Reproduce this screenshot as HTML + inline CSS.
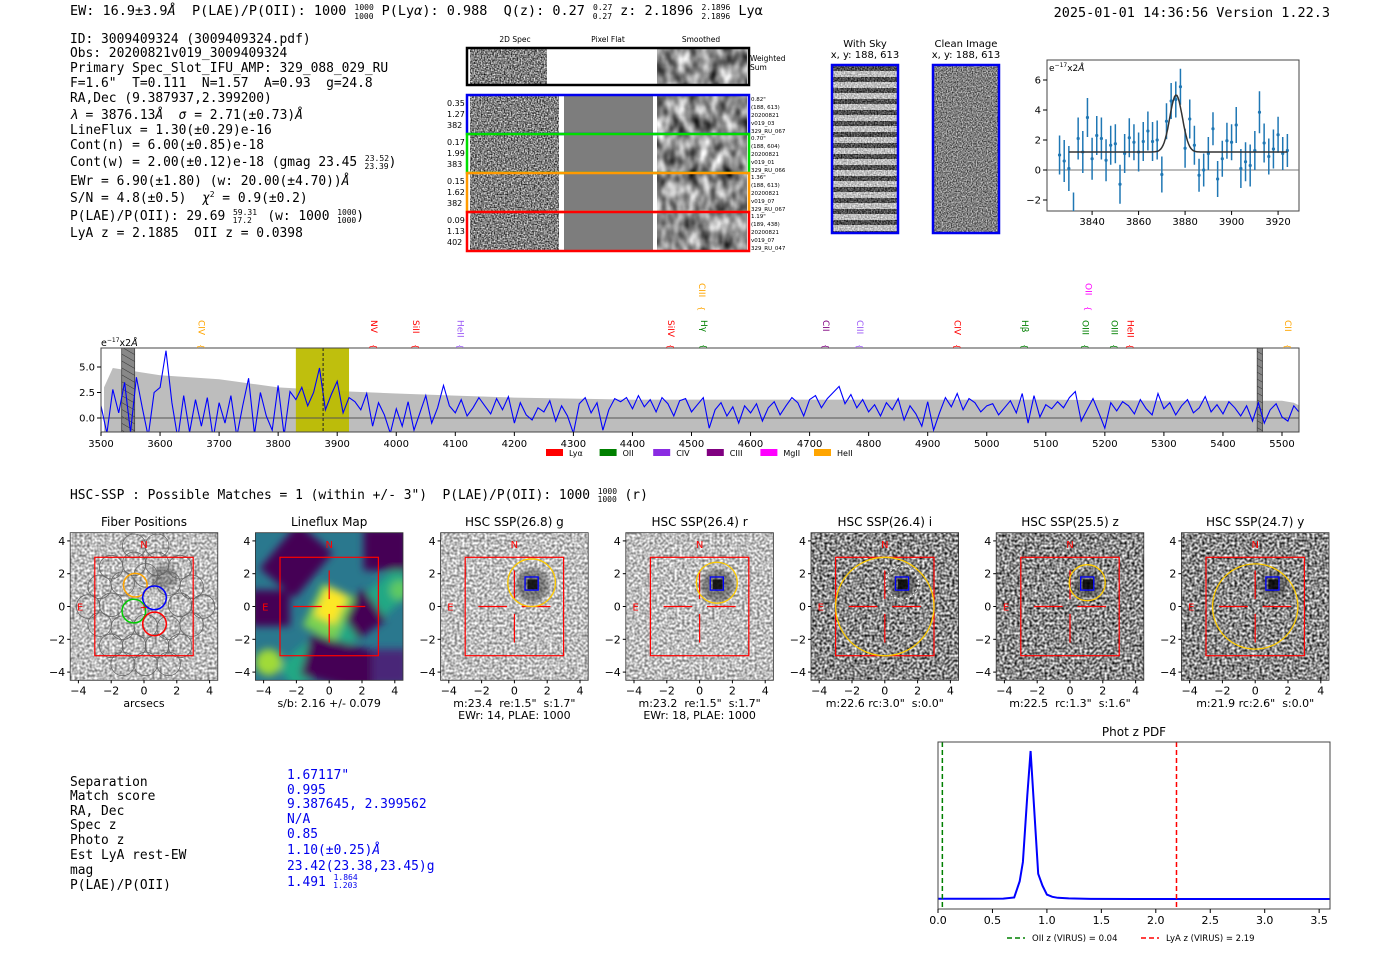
<!DOCTYPE html>
<html><head><meta charset="utf-8"><style>
html,body{margin:0;padding:0;background:#fff}
svg{display:block}
text{white-space:pre}
.m{font-family:"DejaVu Sans Mono","Liberation Mono",monospace}
.s{font-family:"DejaVu Sans","Liberation Sans",sans-serif}
</style></head><body>
<svg id="fig" width="1400" height="953" viewBox="0 0 1400 953" xmlns="http://www.w3.org/2000/svg" xml:space="preserve">
<defs>
<filter id="nzF" x="0" y="0" width="1" height="1" color-interpolation-filters="sRGB"><feTurbulence type="fractalNoise" baseFrequency="0.7" numOctaves="1" seed="3"/><feColorMatrix type="matrix" values="1.6 0 0 0 -0.3  1.6 0 0 0 -0.3  1.6 0 0 0 -0.3  0 0 0 0 1"/></filter>
<filter id="nzC" x="0" y="0" width="1" height="1" color-interpolation-filters="sRGB"><feTurbulence type="fractalNoise" baseFrequency="0.8" numOctaves="1" seed="9"/><feColorMatrix type="matrix" values="1.3 0 0 0 -0.15  1.3 0 0 0 -0.15  1.3 0 0 0 -0.15  0 0 0 0 1"/></filter>
<filter id="nzS" x="0" y="0" width="1" height="1" color-interpolation-filters="sRGB"><feTurbulence type="fractalNoise" baseFrequency="0.09 0.06" numOctaves="2" seed="7"/><feColorMatrix type="matrix" values="1.3 0 0 0 -0.1  1.3 0 0 0 -0.1  1.3 0 0 0 -0.1  0 0 0 0 1"/></filter>
<filter id="nzL" x="0" y="0" width="1" height="1" color-interpolation-filters="sRGB"><feTurbulence type="fractalNoise" baseFrequency="0.4" numOctaves="1" seed="11"/><feColorMatrix type="matrix" values="1.1 0 0 0 0.2  1.1 0 0 0 0.2  1.1 0 0 0 0.2  0 0 0 0 1"/></filter>
<filter id="nzD" x="0" y="0" width="1" height="1" color-interpolation-filters="sRGB"><feTurbulence type="fractalNoise" baseFrequency="0.4" numOctaves="1" seed="5"/><feColorMatrix type="matrix" values="1.7 0 0 0 -0.3  1.7 0 0 0 -0.3  1.7 0 0 0 -0.3  0 0 0 0 1"/></filter>
<filter id="blur2" x="-50%" y="-50%" width="200%" height="200%"><feGaussianBlur stdDeviation="2.5"/></filter>
<filter id="blur5" x="-30%" y="-30%" width="160%" height="160%"><feGaussianBlur stdDeviation="4"/></filter>
<pattern id="stripes" width="10" height="11" patternUnits="userSpaceOnUse"><rect width="10" height="5" fill="#000" opacity="0.4"/><rect y="5" width="10" height="6" fill="#fff" opacity="0.5"/></pattern>
<pattern id="hatch" width="6" height="6" patternUnits="userSpaceOnUse" patternTransform="rotate(-60)"><line x1="0" y1="0" x2="0" y2="6" stroke="#333" stroke-width="1"/></pattern>
<clipPath id="specClip"><rect x="101" y="348" width="1198" height="84"/></clipPath>
<clipPath id="zoomClip"><rect x="1047" y="60" width="252" height="151"/></clipPath>
<clipPath id="pdfClip"><rect x="938" y="742" width="392" height="167"/></clipPath>
<clipPath id="lfClip"><rect x="255.4" y="532.7" width="147.6" height="147.6"/></clipPath>
</defs>

<!-- header -->
<g class="m" font-size="13.5">
<text x="70" y="15">EW: 16.9±3.9<tspan font-style="italic">Å</tspan>  P(LAE)/P(OII): 1000 <tspan font-size="8" dy="-5">1000</tspan><tspan font-size="8" dx="-19.5" dy="9">1000</tspan><tspan dy="-4"> P(Ly<tspan font-style="italic">α</tspan>): 0.988  Q(z): 0.27 </tspan><tspan font-size="8" dy="-5">0.27</tspan><tspan font-size="8" dx="-19.5" dy="9">0.27</tspan><tspan dy="-4"> z: 2.1896 </tspan><tspan font-size="8" dy="-5">2.1896</tspan><tspan font-size="8" dx="-29" dy="9">2.1896</tspan><tspan dy="-4"> Lyα</tspan></text>
<text x="1330" y="17" text-anchor="end">2025-01-01 14:36:56 Version 1.22.3</text>
</g>

<g class="m" font-size="12.9">
<text x="70" y="43">ID: 3009409324 (3009409324.pdf)</text>
<text x="70" y="57">Obs: 20200821v019_3009409324</text>
<text x="70" y="72">Primary Spec_Slot_IFU_AMP: 329_088_029_RU</text>
<text x="70" y="87">F=1.6"  T=0.111  N=1.57  A=0.93  g=24.8</text>
<text x="70" y="102">RA,Dec (9.387937,2.399200)</text>
<text x="70" y="119"><tspan font-style="italic">λ</tspan> = 3876.13<tspan font-style="italic">Å</tspan>  <tspan font-style="italic">σ</tspan> = 2.71(±0.73)<tspan font-style="italic">Å</tspan></text>
<text x="70" y="134">LineFlux = 1.30(±0.29)e-16</text>
<text x="70" y="149">Cont(n) = 6.00(±0.85)e-18</text>
<text x="70" y="166">Cont(w) = 2.00(±0.12)e-18 (gmag 23.45 <tspan font-size="8" dy="-5">23.52</tspan><tspan font-size="8" dx="-24.5" dy="8">23.39</tspan><tspan dy="-3">)</tspan></text>
<text x="70" y="185">EWr = 6.90(±1.80) (w: 20.00(±4.70))<tspan font-style="italic">Å</tspan></text>
<text x="70" y="202">S/N = 4.8(±0.5)  <tspan font-style="italic">χ</tspan><tspan font-size="8" dy="-5">2</tspan><tspan dy="5"> = 0.9(±0.2)</tspan></text>
<text x="70" y="220">P(LAE)/P(OII): 29.69 <tspan font-size="8" dy="-5">59.31</tspan><tspan font-size="8" dx="-24.5" dy="8">17.2</tspan><tspan dy="-3">  (w: 1000 </tspan><tspan font-size="8" dy="-5">1000</tspan><tspan font-size="8" dx="-19.5" dy="8">1000</tspan><tspan dy="-3">)</tspan></text>
<text x="70" y="237">LyA z = 2.1885  OII z = 0.0398</text>
</g>

<!-- 2D spectra -->
<g class="s" font-size="7.5">
<text x="515" y="42" text-anchor="middle">2D Spec</text>
<text x="608" y="42" text-anchor="middle">Pixel Flat</text>
<text x="701" y="42" text-anchor="middle">Smoothed</text>
<rect x="470" y="49" width="77" height="35" filter="url(#nzF)"/>
<rect x="657" y="49" width="90" height="35" filter="url(#nzS)"/>
<rect x="467" y="48" width="282" height="37" fill="none" stroke="#000" stroke-width="2.5"/>
<text x="750" y="61">Weighted</text><text x="750" y="70">Sum</text>
<g id="rows"></g>
</g>

<!-- with sky / clean -->
<g class="s" font-size="10">
<text x="865" y="47" text-anchor="middle">With Sky</text><text x="865" y="58" text-anchor="middle">x, y: 188, 613</text>
<text x="966" y="47" text-anchor="middle">Clean Image</text><text x="966" y="58" text-anchor="middle">x, y: 188, 613</text>
<rect x="832" y="65" width="66" height="168" filter="url(#nzF)"/>
<rect x="832" y="65" width="66" height="168" fill="url(#stripes)"/>
<rect x="832" y="65" width="66" height="168" fill="none" stroke="#0000ee" stroke-width="2.5"/>
<rect x="933" y="65" width="66" height="168" filter="url(#nzC)"/>
<rect x="933" y="65" width="66" height="168" fill="none" stroke="#0000ee" stroke-width="2.5"/>
</g>

<!-- zoom plot -->
<g class="s" font-size="10">
<rect x="1047" y="60" width="252" height="151" fill="none" stroke="#444" stroke-width="1"/>
<g id="zoomAxes"></g>
<g id="zoomMarks" clip-path="url(#zoomClip)"></g>
<text x="1049" y="71" font-size="9">e<tspan font-size="6" dy="-4">−17</tspan><tspan dy="4">x2<tspan font-style="italic">Å</tspan></tspan></text>
</g>

<!-- main spectrum -->
<g class="s">
<g id="specMarks" clip-path="url(#specClip)"></g>
<rect x="101" y="348" width="1198" height="84" fill="none" stroke="#444" stroke-width="1"/>
<g id="specAxes" font-size="10"></g>
<text x="101" y="346" font-size="9.5">e<tspan font-size="6" dy="-4">−17</tspan><tspan dy="4">x2<tspan font-style="italic">Å</tspan></tspan></text>
<g id="lineLabels" font-size="9"></g>
<g id="specLegend" font-size="8"></g>
</g>

<text x="70" y="499" class="m" font-size="12.9">HSC-SSP : Possible Matches = 1 (within +/- 3")  P(LAE)/P(OII): 1000 <tspan font-size="8" dy="-5">1000</tspan><tspan font-size="8" dx="-19.5" dy="8">1000</tspan><tspan dy="-3"> (r)</tspan></text>

<g id="panels" class="s" font-size="11"></g>

<!-- match table -->
<g class="m" font-size="12.9">
<g>
<text x="70" y="786">Separation</text><text x="70" y="800">Match score</text><text x="70" y="815">RA, Dec</text><text x="70" y="829">Spec z</text><text x="70" y="844">Photo z</text><text x="70" y="859">Est LyA rest-EW</text><text x="70" y="874">mag</text><text x="70" y="889">P(LAE)/P(OII)</text>
</g>
<g fill="#0000ee">
<text x="287" y="779">1.67117"</text><text x="287" y="794">0.995</text><text x="287" y="808">9.387645, 2.399562</text><text x="287" y="823">N/A</text><text x="287" y="838">0.85</text><text x="287" y="854">1.10(±0.25)<tspan font-style="italic">Å</tspan></text><text x="287" y="870">23.42(23.38,23.45)g</text><text x="287" y="886">1.491 <tspan font-size="8" dy="-6">1.864</tspan><tspan font-size="8" dx="-24.5" dy="8">1.203</tspan></text>
</g>
</g>

<!-- phot z pdf -->
<g class="s" font-size="11">
<text x="1134" y="736" text-anchor="middle" font-size="12">Phot z PDF</text>
<g id="pdfMarks" clip-path="url(#pdfClip)"></g>
<rect x="938" y="742" width="392" height="167" fill="none" stroke="#444" stroke-width="1"/>
<g id="pdfAxes"></g>
<g font-size="8.5">
<line x1="1007" y1="938" x2="1025" y2="938" stroke="#008000" stroke-width="1.5" stroke-dasharray="5,3"/>
<text x="1032" y="941">OII z (VIRUS) = 0.04</text>
<line x1="1141" y1="938" x2="1159" y2="938" stroke="#ff0000" stroke-width="1.5" stroke-dasharray="5,3"/>
<text x="1166" y="941">LyA z (VIRUS) = 2.19</text>
</g>
</g>
</svg>

<script>
// ---- data ----
const rowColors = ['#0000ee','#00dd00','#ff9900','#ff0000'];
const rowLeft = [['0.35','1.27','382'],['0.17','1.99','383'],['0.15','1.62','382'],['0.09','1.13','402']];
const rowRight = [['0.82"','(188, 613)','20200821','v019_03','329_RU_067'],['0.70"','(188, 604)','20200821','v019_01','329_RU_066'],['1.36"','(188, 613)','20200821','v019_07','329_RU_067'],['1.19"','(189, 438)','20200821','v019_07','329_RU_047']];

const zoomWave = [3826,3828,3830,3832,3834,3836,3838,3840,3842,3844,3846,3848,3850,3852,3854,3856,3858,3860,3862,3864,3866,3868,3870,3872,3874,3876,3878,3880,3882,3884,3886,3888,3890,3892,3894,3896,3898,3900,3902,3904,3906,3908,3910,3912,3914,3916,3918,3920,3922,3924];
const zoomFlux = [1.0,0.6,0.1,-2.8,2.1,1.2,3.5,0.75,2.3,2.1,0.65,1.65,1.75,-0.95,1.1,2.15,1.85,1.2,1.9,2.6,1.9,2.0,-0.3,3.25,4.6,4.7,5.55,1.45,3.4,1.65,-0.35,0.0,1.1,2.75,-0.6,0.75,1.95,1.85,3.0,0.1,0.55,0.3,1.3,3.85,1.8,0.9,1.4,2.35,1.1,1.3];
const zoomErr = [1.3,1.4,1.5,1.3,1.4,1.4,1.3,1.4,1.3,1.4,1.4,1.3,1.3,1.3,1.3,1.3,1.2,1.3,1.3,1.3,1.3,1.3,1.2,1.2,1.2,1.2,1.2,1.3,1.3,1.3,1.1,1.1,1.1,1.1,1.2,1.2,1.2,1.2,1.2,1.3,1.3,1.4,1.3,1.4,1.3,1.2,1.3,1.2,1.1,1.1];
const fitCont = 1.2, fitAmp = 3.8, fitCenter = 3876.13, fitSigma = 2.71;
const zoomXTicks = [3840,3860,3880,3900,3920];
const zoomYTicks = [-2,0,2,4,6];

const specStart = 3500, specStep = 10;
const specFlux = [1.2,-1.5,2.8,0.5,3.5,-1.4,4.0,1.0,-1.8,2.5,
3.0,6.6,1.5,-2.0,2.2,-1.4,1.8,-0.8,2.0,-2.0,
1.5,-0.5,2.2,-1.8,1.2,3.9,-1.6,2.5,0.2,-1.2,
3.2,-1.7,2.6,1.8,3.0,1.2,2.5,4.9,0.8,2.3,
3.6,0.5,2.0,1.6,0.8,2.4,-0.8,1.5,0.3,-1.5,
0.9,-0.8,1.6,-1.2,0.5,2.2,-0.5,1.0,3.2,1.2,
0.5,1.8,0.2,1.0,2.0,1.2,0.4,1.9,0.8,2.1,
-0.5,1.5,0.3,-0.2,1.0,0.6,1.7,-0.3,1.2,0.2,
-1.5,1.4,2.0,0.5,1.5,-1.2,0.8,1.9,1.6,2.0,
0.9,2.2,1.1,1.8,0.6,2.0,1.4,0.2,1.7,1.9,
0.6,1.3,2.0,-1.0,0.8,1.5,0.2,1.1,-0.5,1.2,
0.5,1.4,-0.3,1.0,1.6,0.3,1.2,2.0,1.5,0.2,
1.8,2.2,1.0,1.9,2.5,3.1,1.4,2.3,1.0,1.8,
0.6,1.3,0.2,1.5,0.8,1.9,-0.2,1.2,0.4,-0.8,
1.6,-1.2,0.5,2.0,1.1,2.4,0.8,1.9,1.5,0.6,
1.2,1.4,0.3,1.0,1.7,0.5,2.4,-0.5,2.2,0.1,
1.3,0.9,1.6,1.0,2.0,2.6,-0.3,0.8,1.9,0.5,
-1.0,1.5,0.7,1.6,1.2,0.4,1.8,0.9,0.3,2.4,
0.9,1.5,0.3,1.2,1.8,0.5,1.0,2.1,0.6,1.3,
0.4,1.6,1.0,0.2,1.2,-0.3,1.5,-0.5,0.8,1.4,
0.1,-0.3,1.2,0.5];
const skyWave = [3505,3520,3600,3700,3800,3830,3920,4000,4100,4200,4300,4400,4500,4700,4900,5100,5300,5500,5520,5530];
const skyVal = [3.0,4.9,4.2,3.8,3.0,2.9,2.6,2.4,2.2,2.0,1.9,1.8,1.8,1.8,1.8,1.8,1.7,1.7,1.5,1.2];
const specXTicks = [3500,3600,3700,3800,3900,4000,4100,4200,4300,4400,4500,4600,4700,4800,4900,5000,5100,5200,5300,5400,5500];
const specYTicks = [0.0,2.5,5.0];
const fitWindow = [3830,3920];
const maskedBands = [[3535,3557],[5458,5467]];
const lineNames = ['CIV','NV','SiII','HeII','SiIV','CIII','Hγ','CII','CIII','CIV','Hβ','OII','OIII','OIII','HeII','CII'];
const lineWaves = [3660,3952,4023,4099,4455,4508,4511,4718,4775,4940,5055,5162,5157,5206,5233,5500];
const lineColors = ['#ffa500','#ff0000','#ff0000','#9b59f6','#ff0000','#ffa500','#008000','#800080','#9b59f6','#ff0000','#008000','#ff00ff','#008000','#008000','#ff0000','#ffa500'];
const lineHigh = [0,0,0,0,0,1,0,0,0,0,0,1,0,0,0,0];
const legendNames = ['Lyα','OII','CIV','CIII','MgII','HeII'];
const legendColors = ['#ff0000','#008000','#8a2be2','#800080','#ff00ff','#ffa500'];

const panelTitles = ['Fiber Positions','Lineflux Map','HSC SSP(26.8) g','HSC SSP(26.4) r','HSC SSP(26.4) i','HSC SSP(25.5) z','HSC SSP(24.7) y'];
const panelSub1 = ['arcsecs','s/b: 2.16 +/- 0.079','m:23.4  re:1.5"  s:1.7"','m:23.2  re:1.5"  s:1.7"','m:22.6 rc:3.0"  s:0.0"','m:22.5  rc:1.3"  s:1.6"','m:21.9 rc:2.6"  s:0.0"'];
const panelSub2 = ['','','EWr: 14, PLAE: 1000','EWr: 18, PLAE: 1000','','',''];
const ellipseX = [0,0,1.05,1.05,0,1.05,0];
const ellipseY = [0,0,1.45,1.45,0,1.45,0];
const ellipseR = [0,0,1.45,1.25,3.0,1.1,2.6];
const panelTicks = [-4,-2,0,2,4];
const fiberX = [-0.53,0.64,-0.62,0.64];
const fiberY = [1.3,0.53,-0.28,-1.06];
const fiberCol = ['#ffa500','#0000ff','#00cc00','#ff0000'];
const gridFiberX = [-2.0,-0.6,0.8,2.2,-2.7,-1.3,1.5,2.9,-2.0,2.2,-2.7,-1.3,0.1,1.5,2.9,-2.0,-0.6,0.8,2.2,-1.3,0.1,1.5,-0.6,0.8,0.1,-3.4,3.6];
const gridFiberY = [2.4,2.6,2.6,2.4,1.2,1.4,1.4,1.2,0.1,0.1,-1.1,-1.3,-1.2,-1.3,-1.1,-2.4,-2.4,-2.4,-2.4,-3.5,-3.5,-3.5,3.7,3.7,1.9,0.0,0.0];

const pdfZ = [0,0.2,0.4,0.6,0.7,0.75,0.78,0.82,0.85,0.88,0.92,0.96,1.0,1.05,1.1,1.2,1.4,1.8,2.5,3.6];
const pdfP = [0.002,0.002,0.002,0.003,0.01,0.12,0.25,0.7,1.0,0.65,0.17,0.09,0.03,0.015,0.008,0.004,0.001,0,0,0];
const pdfXTicks = [0.0,0.5,1.0,1.5,2.0,2.5,3.0,3.5];
const oiiZ = 0.04, lyaZ = 2.19;

// ---- helpers ----
const NS = 'http://www.w3.org/2000/svg';
function mk(tag, attrs, parent){ const e=document.createElementNS(NS,tag); for(const k in attrs) e.setAttribute(k,attrs[k]); parent.appendChild(e); return e; }
function txt(s, attrs, parent){ const e=mk('text',attrs,parent); e.textContent=s; return e; }

// ---- 2D spec rows ----
const rows = document.getElementById('rows');
const rowY = [96,135,174,213];
rowY.forEach((y,i)=>{
  const g = mk('g',{},rows);
  
  
  mk('rect',{x:470,y:y,width:89,height:37,filter:'url(#nzF)'},g);
  mk('rect',{x:564,y:y,width:89,height:37,fill:'#7d7d7d'},g);
  mk('rect',{x:657,y:y,width:90,height:37,filter:'url(#nzS)'},g);
  mk('rect',{x:467,y:y-1,width:282,height:39,fill:'none',stroke:rowColors[i],'stroke-width':2.5},g);
  rowLeft[i].forEach((s,j)=>txt(s,{x:447,y:y+10+j*11,'font-size':8},g));
  rowRight[i].forEach((s,j)=>txt(s,{x:751,y:y+5+j*8,'font-size':5.5},g));
});

// ---- zoom plot ----
const zx = w => 1047 + (w-3820.6)*(252/108.4);
const zy = v => 170 - v*15;
const zAx = document.getElementById('zoomAxes');
zoomXTicks.forEach(t=>{ mk('line',{x1:zx(t),y1:211,x2:zx(t),y2:215,stroke:'#000'},zAx); txt(String(t),{x:zx(t),y:225,'text-anchor':'middle'},zAx); });
zoomYTicks.forEach(t=>{ mk('line',{x1:1043,y1:zy(t),x2:1047,y2:zy(t),stroke:'#000'},zAx); txt(t<0?'−'+(-t):String(t),{x:1041,y:zy(t)+3.5,'text-anchor':'end'},zAx); });
const zM = document.getElementById('zoomMarks');
mk('line',{x1:1047,y1:zy(0),x2:1299,y2:zy(0),stroke:'#777','stroke-width':1},zM);
zoomWave.forEach((w,i)=>{
  const eb = mk('line',{x1:zx(w),y1:zy(zoomFlux[i]-zoomErr[i]),x2:zx(w),y2:zy(zoomFlux[i]+zoomErr[i]),stroke:'#1f77b4','stroke-width':1.5},zM);
  
  
  const pt = mk('circle',{cx:zx(w),cy:zy(zoomFlux[i]),r:1.6,fill:'#1f77b4'},zM);
  
  
});
let fd='';
for(let w=3830; w<=3924; w+=0.5){ const v=fitCont+fitAmp*Math.exp(-0.5*((w-fitCenter)/fitSigma)**2); fd+=(fd?'L':'M')+zx(w).toFixed(1)+','+zy(v).toFixed(1); }
const fitPath = mk('path',{d:fd,fill:'none',stroke:'#333','stroke-width':1.5},zM);



// ---- main spectrum ----
const sx = w => 101 + (w-3500)*(1181/2000);
const sy = v => 418 - v*10.2;
const sM = document.getElementById('specMarks');
let sd='M'+sx(skyWave[0])+',432';
skyWave.forEach((w,i)=> sd+='L'+sx(w).toFixed(1)+','+sy(skyVal[i]).toFixed(1));
sd+='L'+sx(skyWave[skyWave.length-1])+',432Z';
const sky = mk('path',{d:sd,fill:'#bdbdbd'},sM);


const fw = mk('rect',{x:sx(fitWindow[0]),y:348,width:sx(fitWindow[1])-sx(fitWindow[0]),height:84,fill:'#bcbc00',opacity:0.95},sM);


maskedBands.forEach(b=>{
  const r = mk('rect',{x:sx(b[0]),y:348,width:sx(b[1])-sx(b[0]),height:84,fill:'#888',stroke:'#444','stroke-width':0.8},sM);
  
  
  mk('rect',{x:sx(b[0]),y:348,width:sx(b[1])-sx(b[0]),height:84,fill:'url(#hatch)'},sM);
});
mk('line',{x1:101,y1:sy(0),x2:1299,y2:sy(0),stroke:'#555','stroke-width':1},sM);
let ld='';
specFlux.forEach((v,i)=>{ ld+=(i?'L':'M')+sx(specStart+i*specStep).toFixed(1)+','+sy(v).toFixed(1); });
const spec = mk('path',{d:ld,fill:'none',stroke:'#0000ff','stroke-width':1.1},sM);


mk('line',{x1:sx(fitCenter),y1:348,x2:sx(fitCenter),y2:432,stroke:'#222','stroke-width':1,'stroke-dasharray':'3,2'},sM);
const sAx = document.getElementById('specAxes');
specXTicks.forEach(t=>{ mk('line',{x1:sx(t),y1:432,x2:sx(t),y2:436,stroke:'#000'},sAx); txt(String(t),{x:sx(t),y:447,'text-anchor':'middle'},sAx); });
specYTicks.forEach(t=>{ mk('line',{x1:97,y1:sy(t),x2:101,y2:sy(t),stroke:'#000'},sAx); txt(t.toFixed(1),{x:95,y:sy(t)+3.5,'text-anchor':'end'},sAx); });
const LL = document.getElementById('lineLabels');
lineNames.forEach((n,i)=>{
  const x = sx(lineWaves[i]);
  const yb = lineHigh[i] ? 283 : 320;
  const t = txt(n,{x:x+3,y:yb,fill:lineColors[i],transform:'rotate(90 '+(x+3)+' '+yb+')'},LL);
  
  
  txt('{',{x:x+3,y:(lineHigh[i]?306:344),fill:lineColors[i],'font-size':8,transform:'rotate(90 '+(x+3)+' '+(lineHigh[i]?306:344)+')'},LL);
});
const LG = document.getElementById('specLegend');
legendNames.forEach((n,i)=>{
  const x = 546 + i*53.6;
  const r = mk('rect',{x:x,y:449,width:17,height:7,fill:legendColors[i]},LG);
  
  
  txt(n,{x:x+23,y:456},LG);
});

// ---- bottom panels ----
const P = document.getElementById('panels');
const S = 16.4;
panelTitles.forEach((title,i)=>{
  const cx = 144 + i*185.2, cy = 606.5;
  const px = u => cx + u*S, py = v => cy - v*S;
  const g = mk('g',{},P);
  
  
  txt(title,{x:cx,y:526,'text-anchor':'middle','font-size':12},g);
  const x0=px(-4.5), y0=py(4.5), W=9*S;
  if(i===1){
    const cg = mk('g',{'clip-path':'url(#lfClip)'},g);
    mk('rect',{x:x0,y:y0,width:W,height:W,fill:'#2a788e'},cg);
    const bl = mk('g',{filter:'url(#blur5)'},cg);
    mk('rect',{x:px(-4.8),y:py(-0.8),width:9.6*S,height:1.8*S,fill:'#22a884',transform:'rotate(-40 '+cx+' '+cy+')'},bl);
    mk('rect',{x:px(-3.4),y:py(4.6),width:2.8*S,height:3.6*S,fill:'#440154',transform:'rotate(40 '+px(-2)+' '+py(2.8)+')'},bl);
    mk('rect',{x:px(-4.8),y:py(1.0),width:2.4*S,height:2.2*S,fill:'#440154'},bl);
    mk('rect',{x:px(-1.5),y:py(-2.2),width:4.5*S,height:2.6*S,fill:'#440154',transform:'rotate(15 '+px(0.7)+' '+py(-3.5)+')'},bl);
    mk('rect',{x:px(1.0),y:py(0.7),width:2.0*S,height:2.3*S,fill:'#440154',transform:'rotate(-35 '+px(2)+' '+py(-0.5)+')'},bl);
    mk('rect',{x:px(2.1),y:py(4.8),width:2.7*S,height:2.6*S,fill:'#440154'},bl);
    mk('rect',{x:px(2.6),y:py(-2.6),width:2.2*S,height:2.2*S,fill:'#482878'},bl);
    mk('rect',{x:px(-1.1),y:py(1.1),width:2.2*S,height:2.9*S,fill:'#7ad151',transform:'rotate(25 '+px(0)+' '+py(-0.3)+')'},bl);
    mk('rect',{x:px(-0.6),y:py(1.0),width:1.4*S,height:1.9*S,fill:'#fde725',transform:'rotate(25 '+px(0.1)+' '+py(0.05)+')'},bl);
    mk('circle',{cx:px(-3.7),cy:py(-3.4),r:0.8*S,fill:'#a0da39'},bl);
    mk('circle',{cx:px(4.3),cy:py(1),r:0.6*S,fill:'#5ec962'},bl);
  } else {
    mk('rect',{x:x0,y:y0,width:W,height:W,filter:(i>=4?'url(#nzD)':'url(#nzL)')},g);
    if(i>=2){
      mk('circle',{cx:px(1.1),cy:py(1.3),r:(i>=4?0.8:1.0)*S,fill:'#333',opacity:0.5,filter:'url(#blur2)'},g);
      mk('rect',{x:px(0.8),y:py(1.65),width:0.6*S,height:0.6*S,fill:'#000',opacity:0.8},g);
    } else {
      mk('circle',{cx:px(1.2),cy:py(1.8),r:0.8*S,fill:'#333',opacity:0.35,filter:'url(#blur2)'},g);
    }
  }
  if(i===0){
    gridFiberX.forEach((fx,k)=>{ const c=mk('circle',{cx:px(fx),cy:py(gridFiberY[k]),r:0.72*S,fill:'none',stroke:'#666','stroke-width':0.8},g);   });
    fiberX.forEach((fx,k)=>{ const c=mk('circle',{cx:px(fx),cy:py(fiberY[k]),r:0.72*S,fill:'none',stroke:fiberCol[k],'stroke-width':1.5},g);   });
    txt('+',{x:cx,y:cy+4,'text-anchor':'middle',fill:'#ff0000','font-size':10},g);
  }
  mk('rect',{x:px(-3),y:py(3),width:6*S,height:6*S,fill:'none',stroke:'#ff0000','stroke-width':1.2},g);
  if(i>=1){
    [[-2.2,0,-0.45,0],[0.45,0,2.2,0],[0,2.2,0,0.45],[0,-0.45,0,-2.2]].forEach(l=>mk('line',{x1:px(l[0]),y1:py(l[1]),x2:px(l[2]),y2:py(l[3]),stroke:'#ff0000','stroke-width':1.2},g));
  }
  if(i>=2){
    const e = mk('circle',{cx:px(ellipseX[i]),cy:py(ellipseY[i]),r:ellipseR[i]*S,fill:'none',stroke:'#ffcc00','stroke-width':1.3},g);
    
    
    if(i===4) mk('circle',{cx:px(1.05),cy:py(1.45),r:1.0*S,fill:'none',stroke:'#fff','stroke-width':1,'stroke-dasharray':'2,2'},g);
    mk('rect',{x:px(0.65),y:py(1.8),width:0.8*S,height:0.8*S,fill:'none',stroke:'#0000ff','stroke-width':1.3},g);
  }
  txt('N',{x:cx,y:py(3.8)+4,'text-anchor':'middle',fill:'#ff0000','font-size':10},g);
  txt('E',{x:px(-3.9),y:cy+4,'text-anchor':'middle',fill:'#ff0000','font-size':10},g);
  mk('rect',{x:x0,y:y0,width:W,height:W,fill:'none',stroke:'#333','stroke-width':0.8},g);
  panelTicks.forEach(t=>{
    const lab = t<0 ? '−'+(-t) : String(t);
    mk('line',{x1:px(t),y1:y0+W,x2:px(t),y2:y0+W+3,stroke:'#000'},g);
    txt(lab,{x:px(t),y:y0+W+14,'text-anchor':'middle'},g);
    mk('line',{x1:x0-3,y1:py(t),x2:x0,y2:py(t),stroke:'#000'},g);
    txt(lab,{x:x0-5,y:py(t)+4,'text-anchor':'end'},g);
  });
  txt(panelSub1[i],{x:cx,y:707,'text-anchor':'middle'},g);
  if(panelSub2[i]) txt(panelSub2[i],{x:cx,y:719,'text-anchor':'middle'},g);
});

// ---- phot z ----
const qx = z => 938 + z*108.9;
const qy = p => 899 - p*148;
const pM = document.getElementById('pdfMarks');
let pd='';
pdfZ.forEach((z,i)=>{ pd+=(i?'L':'M')+qx(z).toFixed(1)+','+qy(pdfP[i]).toFixed(1); });
const pdf = mk('path',{d:pd,fill:'none',stroke:'#0000ff','stroke-width':2},pM);


const l1 = mk('line',{x1:qx(oiiZ),y1:742,x2:qx(oiiZ),y2:909,stroke:'#008000','stroke-width':1.5,'stroke-dasharray':'5,3'},pM);


const l2 = mk('line',{x1:qx(lyaZ),y1:742,x2:qx(lyaZ),y2:909,stroke:'#ff0000','stroke-width':1.5,'stroke-dasharray':'5,3'},pM);


const pAx = document.getElementById('pdfAxes');
pdfXTicks.forEach(t=>{ mk('line',{x1:qx(t),y1:909,x2:qx(t),y2:913,stroke:'#000'},pAx); txt(t.toFixed(1),{x:qx(t),y:924,'text-anchor':'middle'},pAx); });
</script>
</body></html>
